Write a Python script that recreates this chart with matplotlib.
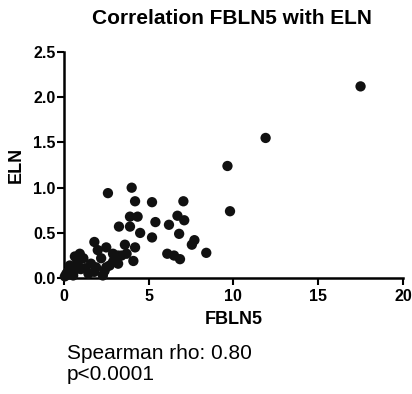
import matplotlib
matplotlib.use("Agg")
import matplotlib.pyplot as plt
import numpy as np

plt.rcParams['font.family'] = ['Liberation Sans', 'DejaVu Sans']

# FBLN5 (x) vs ELN (y)
fbln5 = [17.5, 11.9, 9.65, 9.8,
         2.6, 4.0, 4.2, 5.2, 7.05,
         3.9, 4.35, 5.4, 6.7, 7.1,
         3.25, 3.9, 6.2, 4.5, 6.8,
         5.2, 7.7, 7.55, 3.6, 4.2,
         8.4, 6.1, 6.5, 6.85, 4.1,
         1.8, 2.5, 2.0, 3.7, 3.2,
         0.94, 2.9, 3.4, 0.65, 1.15,
         2.2, 2.9, 3.2, 0.35, 0.85,
         1.6, 1.9, 2.5, 0.25, 0.65,
         1.25, 1.8, 2.4, 0.06, 0.55,
         1.45, 2.3, 0.3, 0.45, 0.8,
         1.0, 2.7, 3.0, 0.15, 0.7]
eln = [2.12, 1.55, 1.24, 0.74,
       0.94, 1.0, 0.85, 0.84, 0.85,
       0.68, 0.68, 0.62, 0.69, 0.64,
       0.57, 0.57, 0.59, 0.50, 0.49,
       0.45, 0.42, 0.37, 0.37, 0.34,
       0.28, 0.27, 0.25, 0.21, 0.19,
       0.40, 0.34, 0.31, 0.27, 0.25,
       0.27, 0.27, 0.25, 0.24, 0.22,
       0.22, 0.18, 0.16, 0.14, 0.14,
       0.16, 0.12, 0.12, 0.07, 0.09,
       0.11, 0.07, 0.08, 0.02, 0.03,
       0.05, 0.03, 0.04, 0.06, 0.19,
       0.10, 0.14, 0.22, 0.05, 0.12]

fig = plt.figure(figsize=(4.12, 3.94), dpi=100)
ax = fig.add_axes([0.155, 0.294, 0.823, 0.574])

ax.scatter(fbln5, eln, s=55, color='#111111', edgecolors='none', clip_on=False, zorder=3)

ax.set_xlim(0, 20)
ax.set_ylim(0, 2.5)
ax.set_xticks([0, 5, 10, 15, 20])
ax.set_yticks(np.arange(0, 2.51, 0.5))
ax.set_yticklabels(['0.0', '0.5', '1.0', '1.5', '2.0', '2.5'])

for side in ['top', 'right']:
    ax.spines[side].set_visible(False)
for side in ['left', 'bottom']:
    ax.spines[side].set_linewidth(1.8)
ax.tick_params(width=1.5, length=5, labelsize=11.5, pad=1)
ax.tick_params(axis='x', pad=3)
for lbl in ax.get_xticklabels() + ax.get_yticklabels():
    lbl.set_fontweight('bold')

ax.set_xlabel('FBLN5', fontsize=13, fontweight='bold', labelpad=5)
ax.set_ylabel('ELN', fontsize=13, fontweight='bold', labelpad=6)
fig.text(0.563, 0.953, 'Correlation FBLN5 with ELN', ha='center', va='center',
         fontsize=15, fontweight='bold')

fig.text(0.163, 0.077, 'Spearman rho: 0.80\np<0.0001', ha='left', va='center',
         fontsize=15, linespacing=1.15)

fig.savefig('out.png', dpi=100)
